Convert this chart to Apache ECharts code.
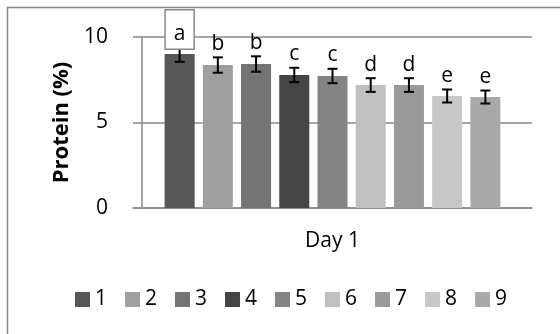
<!DOCTYPE html>
<html>
<head>
<meta charset="utf-8">
<script src="https://cdn.jsdelivr.net/npm/echarts@6/dist/echarts.min.js"></script>
<style>html,body{margin:0;padding:0;background:#fff;}#c{width:560px;height:334px;}</style>
</head>
<body>
<div id="c"></div>
<script>
// ---- data ----
const categoryLabel = 'Day 1';
const seriesNames = ['1', '2', '3', '4', '5', '6', '7', '8', '9'];
const proteinValues = [9.0, 8.36, 8.42, 7.78, 7.72, 7.19, 7.19, 6.55, 6.49];
const errorValues = [0.45, 0.45, 0.45, 0.42, 0.42, 0.40, 0.40, 0.38, 0.38];
const letters = ['a', 'b', 'b', 'c', 'c', 'd', 'd', 'e', 'e'];
const yTickMin = 0, yTickMax = 10, yTickStep = 5;

// ---- styles ----
const colors = ['#575757', '#9f9f9f', '#747474', '#454545', '#848484', '#c0c0c0', '#9a9a9a', '#c8c8c8', '#a9a9a9'];
const FONT = '"Open Sans", "Liberation Sans", sans-serif';
const GRIDC = '#8a8a8a';
const FS = 21;
const boxedIndex = 0;

const chart = echarts.init(document.getElementById('c'), null, {renderer: 'canvas'});

const barSeries = seriesNames.map((n, i) => ({
  name: n,
  type: 'bar',
  data: [[i + 1, proteinValues[i]]],
  barWidth: 30,
  barGap: '-100%',
  itemStyle: {color: colors[i]},
  z: 2
}));

const errSeries = {
  type: 'custom',
  name: 'err',
  data: seriesNames.map((n, i) => [i + 1, proteinValues[i], errorValues[i]]),
  z: 5,
  renderItem: function (params, api) {
    const xv = api.value(0), v = api.value(1), e = api.value(2);
    const top = api.coord([xv, v + e]);
    const bot = api.coord([xv, v - e]);
    const hw = 5;
    const idx = params.dataIndex;
    const lineStyle = {stroke: '#000', lineWidth: 2};
    const boxed = idx === boxedIndex;
    const textStyle = {
      text: letters[idx],
      x: top[0],
      y: boxed ? top[1] + 2 : top[1] - 3,
      align: 'center',
      verticalAlign: 'bottom',
      font: FS + 'px ' + FONT,
      fill: '#000'
    };
    if (boxed) {
      textStyle.backgroundColor = '#fff';
      textStyle.borderColor = GRIDC;
      textStyle.borderWidth = 1.5;
      textStyle.padding = [13, 8, 4, 8];
    }
    return {
      type: 'group',
      children: [
        {type: 'line', shape: {x1: top[0], y1: top[1], x2: bot[0], y2: bot[1]}, style: lineStyle},
        {type: 'line', shape: {x1: top[0] - hw, y1: top[1], x2: top[0] + hw, y2: top[1]}, style: lineStyle},
        {type: 'line', shape: {x1: bot[0] - hw, y1: bot[1], x2: bot[0] + hw, y2: bot[1]}, style: lineStyle},
        {type: 'text', style: textStyle}
      ]
    };
  }
};

chart.setOption({
  animation: false,
  backgroundColor: '#fff',
  textStyle: {fontFamily: FONT},
  graphic: [{
    type: 'rect',
    shape: {x: 7.5, y: 7.5, width: 700, height: 500},
    style: {fill: 'none', stroke: GRIDC, lineWidth: 1.5},
    silent: true
  }],
  grid: {left: 133, top: 37, right: 28, bottom: 126, containLabel: false},
  legend: {
    data: seriesNames,
    left: 70,
    top: 284,
    icon: 'rect',
    itemWidth: 15,
    itemHeight: 15,
    itemGap: 18,
    itemStyle: {borderWidth: 0},
    textStyle: {fontSize: FS, color: '#000', fontFamily: FONT}
  },
  xAxis: {
    type: 'value',
    min: -0.22,
    max: 10.22,
    name: categoryLabel,
    nameLocation: 'middle',
    nameGap: 23,
    nameTextStyle: {fontSize: FS, color: '#000', fontFamily: FONT},
    axisLine: {show: true, lineStyle: {color: GRIDC, width: 1.5}},
    axisTick: {show: false},
    axisLabel: {show: false},
    splitLine: {show: false}
  },
  yAxis: {
    type: 'value',
    min: yTickMin,
    max: yTickMax,
    interval: yTickStep,
    name: 'Protein (%)',
    nameLocation: 'middle',
    nameGap: 60,
    nameTextStyle: {fontSize: 22, fontWeight: 'bold', color: '#000', fontFamily: FONT},
    axisLine: {show: true, lineStyle: {color: GRIDC, width: 1.5}},
    axisTick: {show: false},
    axisLabel: {fontSize: FS, color: '#000', margin: 25, fontFamily: FONT},
    splitLine: {show: true, lineStyle: {color: GRIDC, width: 1.5}}
  },
  series: barSeries.concat([errSeries])
});
</script>
</body>
</html>
